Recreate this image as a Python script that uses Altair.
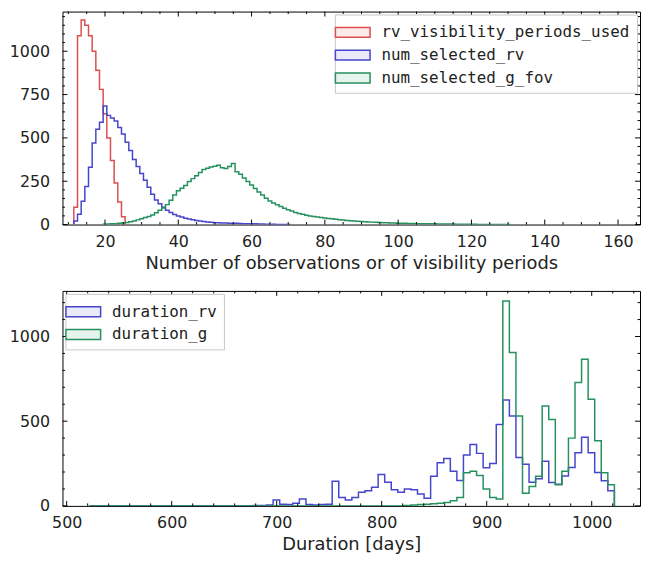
import altair as alt
import pandas as pd

# ---------------- top panel data (integer bins, centres) ----------------
red_centers = list(range(12, 26))
red_counts = [100, 1090, 1181, 1150, 1090, 1000, 890, 780, 640, 500, 370, 240, 130, 45]

blue_centers = list(range(12, 71))
blue_counts = [20, 60, 135, 220, 330, 470, 550, 590, 684,
               630, 615, 598, 560, 522, 475, 427, 375, 335, 295,
               255, 215, 175, 141, 120, 100, 82, 70, 58, 50,
               43, 37, 32, 28, 24, 21, 18, 15, 13, 11,
               10, 9, 9, 8, 8, 7, 6, 5, 5, 4,
               4, 3, 3, 2, 2, 2, 1, 1, 1, 1]

green_centers = list(range(20, 131))
green_counts = [2, 3, 4, 5, 7, 9, 12, 16, 21, 27,
                34, 40, 47, 55, 68, 82, 95, 115, 140, 170,
                195, 210, 225, 248, 265, 282, 300, 318, 325, 332,
                336, 342, 328, 324, 335, 352, 305, 290, 268, 248,
                228, 208, 188, 170, 152, 136, 124, 114, 104, 94,
                85, 78, 70, 64, 59, 54, 50, 47, 44, 41,
                38, 35, 33, 30, 28, 26, 24, 22, 20, 19,
                17, 16, 15, 14, 13, 12, 11, 10, 9, 9,
                8, 7, 7, 6, 6, 5, 5, 5, 4, 4,
                4, 3, 3, 3, 3, 3, 2, 2, 2, 2,
                2, 2, 1, 1, 1, 1, 1, 1, 1, 1, 1]

top_names = ["rv_visibility_periods_used", "num_selected_rv", "num_selected_g_fov"]

# ---------------- bottom panel data (80 bins) ----------------
dur_bin_start = 521.6
dur_bin_width = 6.25
dur_rv_counts = [0, 0, 0, 0, 0, 0, 0, 0, 0, 0,
                 0, 0, 0, 0, 0, 0, 0, 0, 0, 0,
                 0, 0, 0, 0, 0, 2, 3, 5, 35, 10,
                 8, 15, 40, 8, 5, 8, 10, 145, 50, 35,
                 50, 80, 90, 110, 185, 140, 95, 80, 100, 95,
                 70, 45, 175, 255, 280, 205, 150, 300, 363, 310,
                 225, 250, 480, 625, 530, 285, 246, 140, 160, 264,
                 138, 128, 177, 226, 313, 405, 313, 197, 148, 90]
dur_g_counts = [0, 0, 0, 0, 0, 0, 0, 0, 0, 0,
                0, 0, 0, 0, 0, 0, 0, 0, 0, 0,
                0, 0, 0, 0, 0, 0, 0, 0, 0, 0,
                0, 0, 0, 0, 0, 0, 0, 0, 0, 0,
                0, 0, 0, 0, 0, 0, 0, 0, 3, 5,
                8, 10, 12, 15, 20, 30, 50, 195, 205, 180,
                100, 50, 40, 1210, 905, 530, 75, 115, 175, 590,
                510, 125, 205, 400, 728, 865, 630, 385, 195, 125]
bottom_names = ["duration_rv", "duration_g"]

# ---------------- ticks ----------------
top_x_major = [20, 40, 60, 80, 100, 120, 140, 160]
top_x_minor = [v for v in range(10, 166, 5) if v % 20 != 0]
top_y_major = [0, 250, 500, 750, 1000]
top_y_minor = [v for v in range(50, 1230, 50) if v % 250 != 0]
bot_x_major = [500, 600, 700, 800, 900, 1000]
bot_x_minor = [v for v in range(500, 1046, 20) if v % 100 != 0]
bot_y_major = [0, 500, 1000]
bot_y_minor = [v for v in range(100, 1269, 100) if v % 500 != 0]

RED, BLUE, GREEN = "#dc4e4b", "#4645cc", "#25915f"
RED_P, BLUE_P, GREEN_P = "#fbeaea", "#eaeaf9", "#e7f3ed"
TXT = "#222222"
MONO = "DejaVu Sans Mono"
SANS = "DejaVu Sans"
W = 583
H_TOP, H_BOT = 215, 217


def step_frame(lefts, width, counts, name):
    xs = [lefts[0]] + list(lefts) + [lefts[-1] + width]
    ys = [0] + list(counts) + [0]
    return pd.DataFrame({"x": xs, "count": ys, "series": name,
                         "i": list(range(len(xs)))})


def tick_layers(vals, axis, length, H, scale, ax):
    df = pd.DataFrame({"v": vals})
    base = alt.Chart(df).mark_rule(color="black", strokeWidth=1)
    if axis == "x":
        enc = alt.X("v:Q", scale=scale, axis=ax)
        return [base.encode(x=enc, y=alt.value(H), y2=alt.value(H - length)),
                base.encode(x=enc, y=alt.value(0), y2=alt.value(length))]
    enc = alt.Y("v:Q", scale=scale, axis=ax)
    return [base.encode(y=enc, x=alt.value(0), x2=alt.value(length)),
            base.encode(y=enc, x=alt.value(W), x2=alt.value(W - length))]


LEG_PATH = "M-1.75,-0.5L1.75,-0.5L1.75,0.5L-1.75,0.5Z"


def legend(orient):
    return alt.Legend(title=None, orient=orient, offset=3,
                      symbolType=LEG_PATH, symbolSize=400, symbolStrokeWidth=1.5,
                      labelFont=MONO, labelFontSize=16, labelColor=TXT,
                      labelLimit=600, labelOffset=18, padding=7, rowPadding=4,
                      strokeColor="#c8c8c8", fillColor="white", cornerRadius=0)


def panel(df, names, colors, pales, xscale, yscale, H, xtitle, xvals, yvals,
          xmaj, xmin, ymaj, ymin, orient):
    xaxis = alt.Axis(title=xtitle, values=xvals, format="d",
                     ticks=False, tickSize=0, domain=False, grid=False,
                     labelPadding=9, titlePadding=5)
    yaxis = alt.Axis(title=None, values=yvals, format="d",
                     ticks=False, tickSize=0, domain=False, grid=False,
                     labelPadding=13)
    fscale = alt.Scale(domain=names, range=pales)
    sscale = alt.Scale(domain=names, range=colors)
    fill = alt.Chart(df).mark_area(interpolate="step-after", clip=True).encode(
        x=alt.X("x:Q", scale=xscale, axis=xaxis),
        y=alt.Y("count:Q", scale=yscale, stack=None, axis=yaxis),
        fill=alt.Fill("series:N", scale=fscale, legend=legend(orient)),
        order=alt.Order("i:Q"),
    )
    line = alt.Chart(df).mark_line(interpolate="step-after", strokeWidth=1.5,
                                   clip=True).encode(
        x=alt.X("x:Q", scale=xscale, axis=xaxis),
        y=alt.Y("count:Q", scale=yscale, stack=None, axis=yaxis),
        stroke=alt.Stroke("series:N", scale=sscale, legend=legend(orient)),
        order=alt.Order("i:Q"),
    )
    layers = [fill, line]
    layers += tick_layers(xmaj, "x", 5, H, xscale, xaxis)
    layers += tick_layers(xmin, "x", 2.5, H, xscale, xaxis)
    layers += tick_layers(ymaj, "y", 5, H, yscale, yaxis)
    layers += tick_layers(ymin, "y", 2.5, H, yscale, yaxis)
    return alt.layer(*layers).properties(width=W, height=H)


top_df = pd.concat([
    step_frame([c - 0.5 for c in red_centers], 1, red_counts, top_names[0]),
    step_frame([c - 0.5 for c in blue_centers], 1, blue_counts, top_names[1]),
    step_frame([c - 0.5 for c in green_centers], 1, green_counts, top_names[2]),
], ignore_index=True)

lefts = [dur_bin_start + k * dur_bin_width for k in range(len(dur_rv_counts))]
bot_df = pd.concat([
    step_frame(lefts, dur_bin_width, dur_rv_counts, bottom_names[0]),
    step_frame(lefts, dur_bin_width, dur_g_counts, bottom_names[1]),
], ignore_index=True)

top_x = alt.Scale(domain=[8.4, 166.0], nice=False, zero=False)
top_y = alt.Scale(domain=[0, 1229], nice=False)
bot_x = alt.Scale(domain=[496, 1046], nice=False, zero=False)
bot_y = alt.Scale(domain=[0, 1269], nice=False)

top = panel(top_df, top_names, [RED, BLUE, GREEN], [RED_P, BLUE_P, GREEN_P],
            top_x, top_y, H_TOP,
            "Number of observations or of visibility periods",
            top_x_major, top_y_major, top_x_major, top_x_minor,
            top_y_major, top_y_minor, "top-right")
bottom = panel(bot_df, bottom_names, [BLUE, GREEN], [BLUE_P, GREEN_P],
               bot_x, bot_y, H_BOT,
               "Duration [days]",
               bot_x_major, bot_y_major, bot_x_major, bot_x_minor,
               bot_y_major, bot_y_minor, "top-left")

chart = alt.vconcat(top, bottom, spacing=17).resolve_scale(
    fill="independent", stroke="independent"
).resolve_legend(fill="independent", stroke="independent").properties(
    padding=0
).configure_view(
    stroke="black", strokeWidth=1
).configure_axis(
    labelFont=SANS, labelFontSize=16, labelColor=TXT,
    titleFont=SANS, titleFontSize=18, titleFontWeight="normal", titleColor=TXT
)

chart.save("out.html", embed_options={"renderer": "svg", "actions": False})
